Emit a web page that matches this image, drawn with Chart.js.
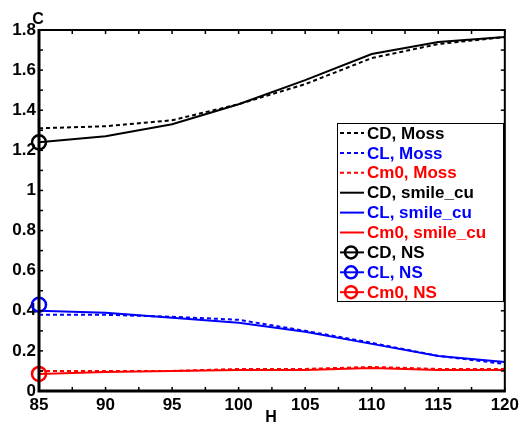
<!DOCTYPE html>
<html>
<head>
<meta charset="utf-8">
<script src="https://cdn.jsdelivr.net/npm/chart.js@4/dist/chart.umd.min.js"></script>
<style>
  html, body { margin: 0; padding: 0; background: #fff; }
  #wrap { width: 523px; height: 423px; }
</style>
</head>
<body>
<div id="wrap"><canvas id="c" width="523" height="423"></canvas></div>
<script>
// H values (x axis)
const hValues = [85, 90, 95, 100, 105, 110, 115, 120];

// Moss (dashed)
const cdMoss  = [1.31, 1.32, 1.35, 1.43, 1.53, 1.66, 1.73, 1.765];
const clMoss  = [0.38, 0.38, 0.37, 0.355, 0.30, 0.24, 0.175, 0.135];
const cm0Moss = [0.10, 0.10, 0.10, 0.11, 0.11, 0.12, 0.11, 0.11];

// smile_cu (solid)
const cdSmile  = [1.24, 1.27, 1.33, 1.43, 1.55, 1.68, 1.74, 1.765];
const clSmile  = [0.40, 0.39, 0.365, 0.34, 0.295, 0.235, 0.175, 0.145];
const cm0Smile = [0.085, 0.095, 0.10, 0.105, 0.105, 0.115, 0.105, 0.105];

// NS (single circle at H = 85)
const nsH   = [85];
const cdNS  = [1.24];
const clNS  = [0.43];
const cm0NS = [0.085];

const yTicks = [0, 0.2, 0.4, 0.6, 0.8, 1, 1.2, 1.4, 1.6, 1.8];
const xTicks = [85, 90, 95, 100, 105, 110, 115, 120];

const FONT = 'Liberation Sans, Arial, Helvetica, sans-serif';

function pts(xs, ys) {
  return xs.map((x, i) => ({ x: x, y: ys[i] }));
}

function lineSet(label, ys, colour, dashed) {
  return {
    label: label,
    data: pts(hValues, ys),
    borderColor: colour,
    backgroundColor: colour,
    borderWidth: 2,
    borderDash: dashed ? [4, 3] : [],
    pointRadius: 0,
    tension: 0,
    fill: false
  };
}

function nsSet(label, ys, colour) {
  return {
    label: label,
    data: pts(nsH, ys),
    borderColor: colour,
    backgroundColor: 'rgba(0,0,0,0)',
    showLine: false,
    clip: false,
    pointRadius: 7,
    pointBorderWidth: 2.5,
    pointStyle: 'circle'
  };
}

const datasets = [
  lineSet('CD, Moss', cdMoss, '#000000', true),
  lineSet('CL, Moss', clMoss, '#0000ff', true),
  lineSet('Cm0, Moss', cm0Moss, '#ff0000', true),
  lineSet('CD, smile_cu', cdSmile, '#000000', false),
  lineSet('CL, smile_cu', clSmile, '#0000ff', false),
  lineSet('Cm0, smile_cu', cm0Smile, '#ff0000', false),
  nsSet('CD, NS', cdNS, '#000000'),
  nsSet('CL, NS', clNS, '#0000ff'),
  nsSet('Cm0, NS', cm0NS, '#ff0000')
];

// frame, inward ticks, axis letters and legend box
const decor = {
  id: 'decor',
  afterDatasetsDraw(chart) {
    const ctx = chart.ctx;
    const a = chart.chartArea;
    const xs = chart.scales.x, ys = chart.scales.y;
    ctx.save();
    ctx.strokeStyle = '#000';

    // inward ticks
    ctx.lineWidth = 1.5;
    for (let v = 85; v <= 120; v += 2.5) {
      const px = xs.getPixelForValue(v);
      ctx.beginPath(); ctx.moveTo(px, a.bottom); ctx.lineTo(px, a.bottom - 4); ctx.stroke();
      ctx.beginPath(); ctx.moveTo(px, a.top); ctx.lineTo(px, a.top + 4); ctx.stroke();
    }
    for (let i = 0; i <= 18; i++) {
      const py = ys.getPixelForValue(i / 10);
      ctx.beginPath(); ctx.moveTo(a.left, py); ctx.lineTo(a.left + 4, py); ctx.stroke();
      ctx.beginPath(); ctx.moveTo(a.right, py); ctx.lineTo(a.right - 4, py); ctx.stroke();
    }

    // frame
    ctx.lineWidth = 2;
    ctx.beginPath();
    ctx.moveTo(a.left, a.top); ctx.lineTo(a.right, a.top); ctx.lineTo(a.right, a.bottom);
    ctx.stroke();
    ctx.lineWidth = 3;
    ctx.beginPath();
    ctx.moveTo(a.left, a.top - 1); ctx.lineTo(a.left, a.bottom); ctx.lineTo(a.right + 1, a.bottom);
    ctx.stroke();

    // axis letters
    ctx.fillStyle = '#000';
    ctx.font = 'bold 16px ' + FONT;
    ctx.textAlign = 'center';
    ctx.textBaseline = 'middle';
    ctx.fillText('C', a.left - 1, 20);
    ctx.fillText('H', (a.left + a.right) / 2 - 1, 418);

    // legend
    const lx = 337, ly = 123, lw = 166, lh = 178, row = 19.9;
    ctx.fillStyle = '#fff';
    ctx.fillRect(lx, ly, lw, lh);
    ctx.lineWidth = 1;
    ctx.strokeStyle = '#000';
    ctx.strokeRect(lx + 0.5, ly + 0.5, lw, lh);
    ctx.font = 'bold 17px ' + FONT;
    ctx.textAlign = 'left';
    chart.data.datasets.forEach((ds, i) => {
      const cy = ly + 10 + i * row;
      ctx.strokeStyle = ds.borderColor;
      ctx.lineWidth = 2;
      ctx.setLineDash(ds.borderDash || []);
      ctx.beginPath(); ctx.moveTo(lx + 3, cy); ctx.lineTo(lx + 27, cy); ctx.stroke();
      ctx.setLineDash([]);
      if (ds.showLine === false) {
        ctx.lineWidth = 2.5;
        ctx.beginPath(); ctx.arc(lx + 14, cy, 6, 0, Math.PI * 2); ctx.stroke();
      }
      ctx.fillStyle = ds.borderColor;
      ctx.fillText(ds.label, lx + 30, cy + 1);
    });
    ctx.restore();
  }
};

new Chart(document.getElementById('c').getContext('2d'), {
  type: 'line',
  data: { datasets: datasets },
  options: {
    responsive: false,
    animation: false,
    layout: { padding: { top: 30, right: 15, left: 0, bottom: 0 } },
    plugins: {
      legend: { display: false },
      tooltip: { enabled: false }
    },
    scales: {
      x: {
        type: 'linear',
        min: 85,
        max: 120,
        afterFit: s => { s.height = 32; },
        afterBuildTicks: s => { s.ticks = xTicks.map(v => ({ value: v })); },
        grid: { display: false, drawTicks: false },
        border: { display: false },
        ticks: { color: '#000', padding: 4, maxRotation: 0, font: { family: FONT, size: 17, weight: 'bold' } }
      },
      y: {
        min: 0,
        max: 1.8,
        afterFit: s => { s.width = 39; },
        afterBuildTicks: s => { s.ticks = yTicks.map(v => ({ value: v })); },
        grid: { display: false, drawTicks: false },
        border: { display: false },
        ticks: {
          color: '#000',
          padding: 3,
          font: { family: FONT, size: 17, weight: 'bold' },
          callback: v => String(Number(v.toFixed(1)))
        }
      }
    }
  },
  plugins: [decor]
});
</script>
</body>
</html>
